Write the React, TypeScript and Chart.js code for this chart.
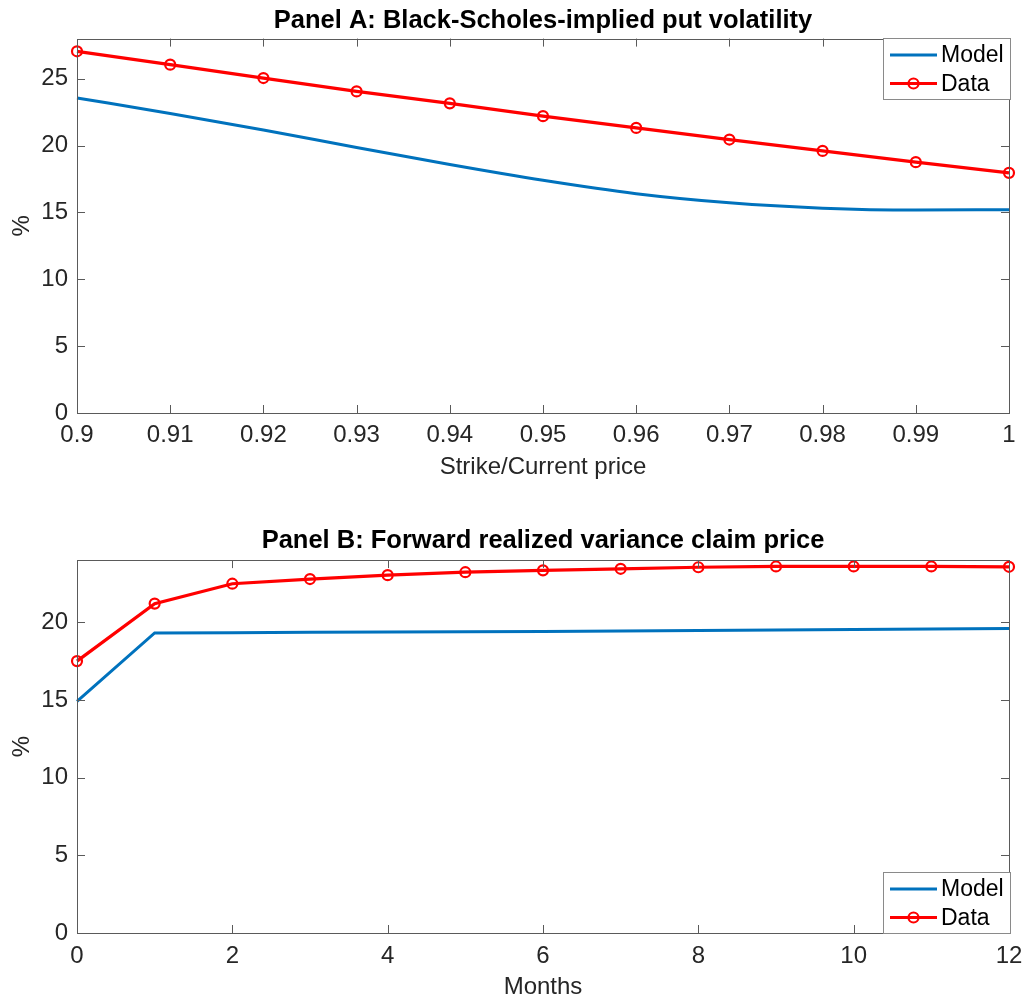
import React, { useEffect, useRef } from "react";
import { Chart, registerables } from "chart.js";

Chart.register(...registerables);

// ---------- Data ----------
const strikeRatios = [0.9, 0.91, 0.92, 0.93, 0.94, 0.95, 0.96, 0.97, 0.98, 0.99, 1.0];
const modelPutVol = [23.56, 22.4, 21.17, 19.85, 18.58, 17.4, 16.4, 15.72, 15.32, 15.18, 15.2];
const dataPutVol = [27.05, 26.05, 25.05, 24.05, 23.16, 22.2, 21.32, 20.45, 19.6, 18.76, 17.96];

const months = [0, 1, 2, 3, 4, 5, 6, 7, 8, 9, 10, 11, 12];
const modelVarClaim = [14.9, 19.31, 19.33, 19.35, 19.37, 19.39, 19.41, 19.44, 19.47, 19.5, 19.53, 19.56, 19.6];
const dataVarClaim = [17.5, 21.2, 22.48, 22.78, 23.03, 23.22, 23.34, 23.44, 23.54, 23.59, 23.59, 23.59, 23.57];

const titleA = "Panel A: Black-Scholes-implied put volatility";
const titleB = "Panel B: Forward realized variance claim price";
const xLabelA = "Strike/Current price";
const xLabelB = "Months";
const yLabel = "%";
const seriesNames = ["Model", "Data"];

// ---------- Styles ----------
const FONT = "'Liberation Sans', Arial, Helvetica, sans-serif";
const BLUE = "#0072BD";
const RED = "#FF0000";
const AXIS = "#5a5a5a";
const TEXT = "#262626";
const FS = 24;
const FS_TITLE = 25.5;
const FS_LEGEND = 23;

function makeFramePlugin() {
  return {
    id: "matlabFrame",
    afterDatasetsDraw(chart: any) {
      const { ctx, chartArea } = chart;
      const { left, right, top, bottom } = chartArea;
      const tl = 8;
      ctx.save();
      ctx.strokeStyle = AXIS;
      ctx.lineWidth = 1;
      ctx.beginPath();
      const xs = chart.scales.x;
      xs.ticks.forEach((t: any) => {
        const px = Math.round(xs.getPixelForValue(t.value)) + 0.5;
        if (px <= left + 1 || px >= right - 1) return;
        ctx.moveTo(px, bottom);
        ctx.lineTo(px, bottom - tl);
        ctx.moveTo(px, top);
        ctx.lineTo(px, top + tl);
      });
      const ys = chart.scales.y;
      ys.ticks.forEach((t: any) => {
        const py = Math.round(ys.getPixelForValue(t.value)) + 0.5;
        if (py <= top + 1 || py >= bottom - 1) return;
        ctx.moveTo(left, py);
        ctx.lineTo(left + tl, py);
        ctx.moveTo(right, py);
        ctx.lineTo(right - tl, py);
      });
      ctx.stroke();
      ctx.strokeRect(Math.round(left) + 0.5, Math.round(top) + 0.5, Math.round(right - left), Math.round(bottom - top));
      ctx.restore();
    },
  };
}

function makeLegendPlugin(corner: "top" | "bottom") {
  return {
    id: "matlabLegend",
    afterDraw(chart: any) {
      const { ctx, chartArea } = chart;
      const w = 128;
      const h = 62;
      const x0 = Math.round(chartArea.right) + 2 - w;
      const y0 = corner === "top" ? Math.round(chartArea.top) - 1 : Math.round(chartArea.bottom) + 1 - h;
      ctx.save();
      ctx.fillStyle = "#ffffff";
      ctx.fillRect(x0, y0, w, h);
      ctx.strokeStyle = "#8a8a8a";
      ctx.lineWidth = 1;
      ctx.strokeRect(x0 + 0.5, y0 + 0.5, w - 1, h - 1);
      const rows = [17, 45.5];
      chart.data.datasets.forEach((ds: any, i: number) => {
        const cy = y0 + rows[i];
        ctx.strokeStyle = ds.borderColor;
        ctx.lineWidth = ds.borderWidth;
        ctx.beginPath();
        ctx.moveTo(x0 + 7, cy);
        ctx.lineTo(x0 + 54, cy);
        ctx.stroke();
        if (ds.pointRadius > 0) {
          ctx.lineWidth = ds.pointBorderWidth;
          ctx.beginPath();
          ctx.arc(x0 + 30.5, cy, ds.pointRadius, 0, Math.PI * 2);
          ctx.stroke();
        }
        ctx.fillStyle = "#000000";
        ctx.font = `${FS_LEGEND}px ${FONT}`;
        ctx.textBaseline = "middle";
        ctx.textAlign = "left";
        ctx.fillText(ds.label, x0 + 58, cy + 1);
      });
      ctx.restore();
    },
  };
}

function buildConfig(opts: {
  xs: number[];
  model: number[];
  data: number[];
  title: string;
  xLabel: string;
  xMin: number;
  xMax: number;
  xStep: number;
  yMax: number;
  titlePad: { top: number; bottom: number };
  xTitlePadBottom: number;
  xTickPad: number;
  xScaleHeight: number;
  modelTension: number;
  legendCorner: "top" | "bottom";
  xFmt: (v: number) => string;
}) {
  return {
    type: "line" as const,
    data: {
      datasets: [
        {
          label: seriesNames[0],
          data: opts.xs.map((x, i) => ({ x, y: opts.model[i] })),
          borderColor: BLUE,
          backgroundColor: BLUE,
          borderWidth: 3,
          pointRadius: 0,
          pointBorderWidth: 0,
          tension: opts.modelTension,
          cubicInterpolationMode: opts.modelTension > 0 ? ("monotone" as const) : ("default" as const),
          clip: false as const,
          order: 2,
        },
        {
          label: seriesNames[1],
          data: opts.xs.map((x, i) => ({ x, y: opts.data[i] })),
          borderColor: RED,
          backgroundColor: "rgba(0,0,0,0)",
          borderWidth: 3.2,
          pointRadius: 5,
          pointBorderWidth: 2.2,
          pointBorderColor: RED,
          pointBackgroundColor: "rgba(0,0,0,0)",
          tension: 0,
          clip: false as const,
          order: 1,
        },
      ],
    },
    options: {
      responsive: false,
      animation: false as const,
      events: [],
      layout: { padding: { left: 0, right: 16, top: 0, bottom: 0 } },
      plugins: {
        legend: { display: false },
        tooltip: { enabled: false },
        title: {
          display: true,
          text: opts.title,
          fullSize: false,
          color: "#000000",
          font: { family: FONT, size: FS_TITLE, weight: "bold" as const },
          padding: opts.titlePad,
        },
      },
      scales: {
        x: {
          type: "linear" as const,
          min: opts.xMin,
          max: opts.xMax,
          grid: { display: false, drawTicks: false },
          border: { display: false },
          ticks: {
            stepSize: opts.xStep,
            color: TEXT,
            font: { family: FONT, size: FS },
            padding: opts.xTickPad,
            maxRotation: 0,
            autoSkip: false,
            includeBounds: false,
            callback: (v: any) => opts.xFmt(Number(v)),
          },
          title: {
            display: true,
            text: opts.xLabel,
            color: TEXT,
            font: { family: FONT, size: FS },
            padding: { top: 0, bottom: opts.xTitlePadBottom },
          },
          afterFit: (s: any) => {
            s.height = opts.xScaleHeight;
            s.paddingLeft = 0;
            s.paddingRight = 0;
          },
        },
        y: {
          type: "linear" as const,
          min: 0,
          max: opts.yMax,
          grid: { display: false, drawTicks: false },
          border: { display: false },
          ticks: {
            stepSize: 5,
            color: TEXT,
            font: { family: FONT, size: FS },
            padding: 9,
            includeBounds: false,
          },
          title: {
            display: true,
            text: yLabel,
            color: TEXT,
            font: { family: FONT, size: FS },
            padding: { top: 7.6, bottom: 0 },
          },
          afterFit: (s: any) => {
            s.width = 77;
            s.paddingTop = 0;
            s.paddingBottom = 0;
          },
        },
      },
    },
    plugins: [makeFramePlugin(), makeLegendPlugin(opts.legendCorner)],
  };
}

function ChartCanvas(props: { config: any; width: number; height: number; top: number }) {
  const ref = useRef<HTMLCanvasElement | null>(null);
  useEffect(() => {
    if (!ref.current) return;
    const chart = new Chart(ref.current, props.config);
    return () => chart.destroy();
  }, []);
  return (
    <canvas
      ref={ref}
      width={props.width}
      height={props.height}
      style={{ position: "absolute", left: 0, top: props.top, width: props.width, height: props.height, display: "block" }}
    />
  );
}

export default function App() {
  const configA = buildConfig({
    xs: strikeRatios,
    model: modelPutVol,
    data: dataPutVol,
    title: titleA,
    xLabel: xLabelA,
    xMin: 0.9,
    xMax: 1.0,
    xStep: 0.01,
    yMax: 28,
    titlePad: { top: 6, bottom: 2 },
    xTitlePadBottom: 8.6,
    xTickPad: 8,
    xScaleHeight: 77,
    modelTension: 0.4,
    legendCorner: "top",
    xFmt: (v) => String(Math.round(v * 100) / 100),
  });
  const configB = buildConfig({
    xs: months,
    model: modelVarClaim,
    data: dataVarClaim,
    title: titleB,
    xLabel: xLabelB,
    xMin: 0,
    xMax: 12,
    xStep: 2,
    yMax: 24,
    titlePad: { top: 35.5, bottom: 4 },
    xTitlePadBottom: 0,
    xTickPad: 9,
    xScaleHeight: 69,
    modelTension: 0,
    legendCorner: "bottom",
    xFmt: (v) => String(Math.round(v)),
  });
  return (
    <div style={{ position: "absolute", left: 0, top: 0, width: 1025, height: 1002, background: "#ffffff", overflow: "hidden" }}>
      <ChartCanvas config={configA} width={1025} height={490} top={0} />
      <ChartCanvas config={configB} width={1025} height={512} top={490} />
    </div>
  );
}
